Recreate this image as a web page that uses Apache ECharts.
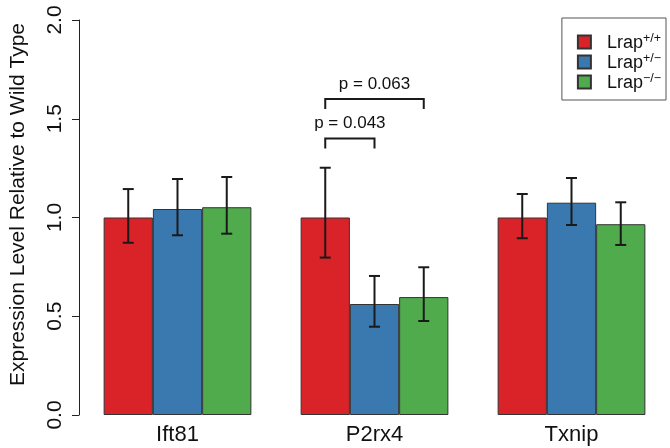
<!DOCTYPE html>
<html>
<head>
<meta charset="utf-8">
<script src="https://cdn.jsdelivr.net/npm/echarts@6/dist/echarts.min.js"></script>
<style>
html,body{margin:0;padding:0;background:#fff;}
#chart{width:670px;height:448px;}
</style>
</head>
<body>
<div id="chart"></div>
<script>
// ---- data ----
var categories = ['Ift81', 'P2rx4', 'Txnip'];
var seriesNames = ['Lrap+/+', 'Lrap+/-', 'Lrap-/-'];
var seriesSup = ['+/+', '+/\u2212', '\u2212/\u2212'];
var wtMean  = [1.000, 1.000, 1.000];
var wtLow   = [0.872, 0.797, 0.895];
var wtHigh  = [1.144, 1.252, 1.119];
var hetMean = [1.043, 0.562, 1.075];
var hetLow  = [0.910, 0.447, 0.962];
var hetHigh = [1.195, 0.704, 1.200];
var koMean  = [1.052, 0.597, 0.966];
var koLow   = [0.918, 0.476, 0.861];
var koHigh  = [1.205, 0.748, 1.077];
var yTicks = [0, 0.5, 1.0, 1.5, 2.0];
// significance brackets (category index, from series, to series, top level, end level, label)
var bracketCat   = [1, 1];
var bracketFrom  = [0, 0];
var bracketTo    = [1, 2];
var bracketTop   = [1.40, 1.60];
var bracketEnd   = [1.35, 1.55];
var bracketLabel = ['p = 0.043', 'p = 0.063'];

var colors = ['#DA2329', '#3A79B0', '#50AB4C'];
var FONT = 'Liberation Sans, Arial, sans-serif';

var means = [wtMean, hetMean, koMean];
var lows = [wtLow, hetLow, koLow];
var highs = [wtHigh, hetHigh, koHigh];
var CAT_GAP = 0.25;

function barOffset(api, s) {
  var band = api.size([1, 0])[0];
  var bw = band * (1 - CAT_GAP) / 3;
  return (s - 1) * bw;
}

var series = [];
for (var s = 0; s < 3; s++) {
  series.push({
    name: seriesNames[s],
    type: 'bar',
    data: means[s],
    barGap: '0%',
    barCategoryGap: (CAT_GAP * 100) + '%',
    itemStyle: { color: colors[s], borderColor: '#333', borderWidth: 1 },
    emphasis: { disabled: true },
    animation: false
  });
}
for (var s2 = 0; s2 < 3; s2++) {
  (function (si) {
    var d = [];
    for (var c = 0; c < categories.length; c++) d.push([c, lows[si][c], highs[si][c]]);
    series.push({
      type: 'custom',
      name: 'err' + si,
      data: d,
      encode: { x: 0, y: [1, 2] },
      z: 10,
      animation: false,
      renderItem: function (params, api) {
        var c = api.value(0);
        var lo = api.coord([c, api.value(1)]);
        var hi = api.coord([c, api.value(2)]);
        var x = lo[0] + barOffset(api, si);
        var cap = 5.5;
        var st = { stroke: '#1a1a1a', lineWidth: 2 };
        return {
          type: 'group',
          children: [
            { type: 'line', shape: { x1: x, y1: lo[1], x2: x, y2: hi[1] }, style: st },
            { type: 'line', shape: { x1: x - cap, y1: lo[1], x2: x + cap, y2: lo[1] }, style: st },
            { type: 'line', shape: { x1: x - cap, y1: hi[1], x2: x + cap, y2: hi[1] }, style: st }
          ]
        };
      }
    });
  })(s2);
}
var bdata = [];
for (var b = 0; b < bracketCat.length; b++) bdata.push([bracketCat[b], bracketTop[b], bracketEnd[b], bracketFrom[b], bracketTo[b], b]);
series.push({
  type: 'custom',
  name: 'brackets',
  data: bdata,
  encode: { x: 0, y: [1, 2] },
  z: 10,
  animation: false,
  renderItem: function (params, api) {
    var c = api.value(0);
    var top = api.coord([c, api.value(1)]);
    var end = api.coord([c, api.value(2)]);
    var x1 = top[0] + barOffset(api, api.value(3));
    var x2 = top[0] + barOffset(api, api.value(4));
    var st = { stroke: '#1a1a1a', lineWidth: 2, fill: null };
    return {
      type: 'group',
      children: [
        { type: 'polyline', shape: { points: [[x1, end[1]], [x1, top[1]], [x2, top[1]], [x2, end[1]]] }, style: st },
        { type: 'text', style: { text: bracketLabel[api.value(5)], x: (x1 + x2) / 2, y: top[1] - 15, align: 'center', verticalAlign: 'middle', fontFamily: FONT, fontSize: 17, fill: '#111' } }
      ]
    };
  }
});

var chart = echarts.init(document.getElementById('chart'), null, { renderer: 'canvas' });
chart.setOption({
  backgroundColor: '#fff',
  animation: false,
  grid: { left: 78, right: -3, top: 20, bottom: 33, containLabel: false },
  legend: {
    data: seriesNames,
    orient: 'vertical',
    right: 4,
    top: 18,
    align: 'left',
    icon: 'rect',
    itemWidth: 13,
    itemHeight: 13,
    itemGap: 0,
    padding: [14, 5, 8, 15],
    borderColor: '#555',
    borderWidth: 1,
    selectedMode: false,
    formatter: function (name) {
      var i = seriesNames.indexOf(name);
      return '{b|Lrap}{s|' + seriesSup[i] + '}';
    },
    textStyle: {
      padding: [0, 0, 0, 11],
      rich: {
        b: { fontFamily: FONT, fontSize: 18, color: '#111', lineHeight: 20, verticalAlign: 'bottom' },
        s: { fontFamily: FONT, fontSize: 12.5, color: '#111', lineHeight: 11, verticalAlign: 'top' }
      }
    }
  },
  xAxis: {
    type: 'category',
    data: categories,
    axisLine: { show: false },
    axisTick: { show: false },
    axisLabel: { fontFamily: FONT, fontSize: 22, color: '#111', margin: 9 }
  },
  yAxis: {
    type: 'value',
    min: yTicks[0],
    max: yTicks[yTicks.length - 1],
    interval: 0.5,
    name: 'Expression Level Relative to Wild Type',
    nameLocation: 'middle',
    nameRotate: 90,
    nameGap: 50,
    nameTextStyle: { fontFamily: FONT, fontSize: 21, color: '#111', padding: [0, 0, 0, 26] },
    axisLine: { show: true, lineStyle: { color: '#222', width: 1 } },
    axisTick: { show: true, length: 7, lineStyle: { color: '#222', width: 1 } },
    splitLine: { show: false },
    axisLabel: {
      rotate: 90,
      margin: 13,
      fontFamily: FONT,
      fontSize: 21,
      color: '#111',
      formatter: function (v) { return v.toFixed(1); }
    }
  },
  series: series
});
</script>
</body>
</html>
